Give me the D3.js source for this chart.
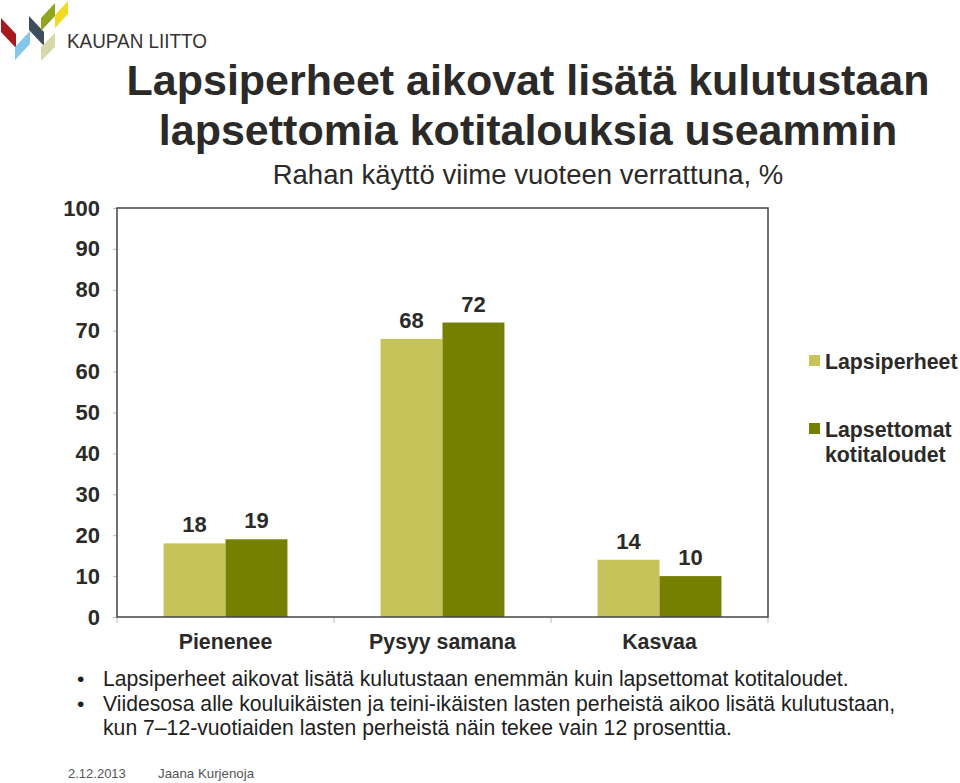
<!DOCTYPE html>
<html>
<head>
<meta charset="utf-8">
<script src="https://cdn.jsdelivr.net/npm/d3@7"></script>
<style>
  body { margin: 0; background: #fff; }
  svg { display: block; font-family: "Liberation Sans", Arial, sans-serif; }
</style>
</head>
<body>
<div id="chart"></div>
<script>
// chart values
categories = ["Pienenee", "Pysyy samana", "Kasvaa"];
seriesNames = ["Lapsiperheet", "Lapsettomat kotitaloudet"];
lapsiperheet = [18, 68, 14];
lapsettomat = [19, 72, 10];
yTicks = [0, 10, 20, 30, 40, 50, 60, 70, 80, 90, 100];

titleLines = ["Lapsiperheet aikovat lisätä kulutustaan", "lapsettomia kotitalouksia useammin"];
subtitle = "Rahan käyttö viime vuoteen verrattuna, %";
bullets = [
    ["Lapsiperheet aikovat lisätä kulutustaan enemmän kuin lapsettomat kotitaloudet."],
    ["Viidesosa alle kouluikäisten ja teini-ikäisten lasten perheistä aikoo lisätä kulutustaan,",
     "kun 7\u201312-vuotiaiden lasten perheistä näin tekee vain 12 prosenttia."]
];
footerDate = "2.12.2013";
footerAuthor = "Jaana Kurjenoja";

colors = ["#c6c35b", "#757f00"];

var width = 960, height = 783;
var plot = { left: 117, right: 768, top: 208, bottom: 617 };

var svg = d3.select("#chart")
    .append("svg")
    .attr("width", width)
    .attr("height", height);

// logo
var logoShapes = [
    { fill: "#a8191f", pts: [[1, 18], [1, 32], [16, 48], [16, 34]] },
    { fill: "#86c6ea", pts: [[15, 47], [15, 60], [30, 44], [30, 31]] },
    { fill: "#3e4d5b", pts: [[29, 16], [29, 30], [44, 46], [44, 32]] },
    { fill: "#90a61f", pts: [[41, 18], [41, 31], [55, 16], [55, 3]] },
    { fill: "#f0db23", pts: [[55, 15], [55, 28], [68, 14], [68, 1]] },
    { fill: "#d8d9ab", pts: [[41, 47], [41, 61], [55, 47], [55, 33]] }
];
svg.append("g").selectAll("polygon")
    .data(logoShapes)
    .enter()
    .append("polygon")
    .attr("points", function (d) { return d.pts.map(function (p) { return p.join(","); }).join(" "); })
    .attr("fill", function (d) { return d.fill; });

svg.append("text")
    .attr("x", 67)
    .attr("y", 48)
    .attr("font-size", 21)
    .attr("fill", "#333")
    .attr("textLength", 140)
    .attr("lengthAdjust", "spacingAndGlyphs")
    .text("KAUPAN LIITTO");

// titles
svg.selectAll(".title")
    .data(titleLines)
    .enter()
    .append("text")
    .attr("class", "title")
    .attr("x", 528)
    .attr("y", function (d, i) { return 95 + i * 50; })
    .attr("text-anchor", "middle")
    .attr("font-size", 43)
    .attr("font-weight", "bold")
    .attr("fill", "#2b2a28")
    .text(function (d) { return d; });

svg.append("text")
    .attr("x", 528)
    .attr("y", 184)
    .attr("text-anchor", "middle")
    .attr("font-size", 27.5)
    .attr("fill", "#2b2a28")
    .text(subtitle);

// scales
var y = d3.scaleLinear().domain([0, 100]).range([plot.bottom, plot.top]);

var x0 = d3.scaleBand()
    .domain(categories)
    .range([plot.left, plot.right])
    .paddingInner(0.429)
    .paddingOuter(0.2145);

var x1 = d3.scaleBand()
    .domain(d3.range(seriesNames.length))
    .range([0, x0.bandwidth()]);

// y axis
var yAxis = svg.append("g")
    .attr("transform", "translate(" + plot.left + ",0)")
    .call(d3.axisLeft(y).tickValues(yTicks).tickSize(4).tickPadding(13));
yAxis.select(".domain").remove();
yAxis.selectAll(".tick line").attr("stroke", "#bbb");
yAxis.selectAll(".tick text")
    .attr("font-family", "Liberation Sans, Arial, sans-serif")
    .attr("font-size", 22)
    .attr("font-weight", "bold")
    .attr("fill", "#2b2a28");

// x axis ticks at category boundaries
var bounds = categories.map(function (c) { return x0(c) - x0.step() * x0.paddingInner() / 2; }).concat([plot.right]);
svg.append("g").selectAll("line")
    .data(bounds)
    .enter()
    .append("line")
    .attr("x1", function (d) { return d; })
    .attr("x2", function (d) { return d; })
    .attr("y1", plot.bottom)
    .attr("y2", plot.bottom + 6)
    .attr("stroke", "#bbb");

// bars
var groups = svg.append("g").selectAll("g")
    .data(categories)
    .enter()
    .append("g")
    .attr("transform", function (d) { return "translate(" + x0(d) + ",0)"; });

var bars = groups.selectAll("g")
    .data(function (d, i) { return [lapsiperheet[i], lapsettomat[i]]; })
    .enter()
    .append("g");

bars.append("rect")
    .attr("x", function (d, i) { return x1(i); })
    .attr("y", function (d) { return y(d); })
    .attr("width", x1.bandwidth())
    .attr("height", function (d) { return y(0) - y(d); })
    .attr("fill", function (d, i) { return colors[i]; });

bars.append("text")
    .attr("x", function (d, i) { return x1(i) + x1.bandwidth() / 2; })
    .attr("y", function (d) { return y(d) - 11; })
    .attr("text-anchor", "middle")
    .attr("font-size", 22)
    .attr("font-weight", "bold")
    .attr("fill", "#2b2a28")
    .text(function (d) { return d; });

// frame
svg.append("rect")
    .attr("x", plot.left)
    .attr("y", plot.top)
    .attr("width", plot.right - plot.left)
    .attr("height", plot.bottom - plot.top)
    .attr("fill", "none")
    .attr("stroke", "#444")
    .attr("stroke-width", 1.5);

// category labels
svg.append("g").selectAll("text")
    .data(categories)
    .enter()
    .append("text")
    .attr("x", function (d) { return x0(d) + x0.bandwidth() / 2; })
    .attr("y", 649)
    .attr("text-anchor", "middle")
    .attr("font-size", 21.3)
    .attr("font-weight", "bold")
    .attr("fill", "#2b2a28")
    .text(function (d) { return d; });

// legend
var legendLines = [["Lapsiperheet"], ["Lapsettomat", "kotitaloudet"]];
var legend = svg.append("g").selectAll("g")
    .data(seriesNames)
    .enter()
    .append("g")
    .attr("transform", function (d, i) { return "translate(809," + (355 + i * 68) + ")"; });

legend.append("rect")
    .attr("width", 11)
    .attr("height", 11)
    .attr("fill", function (d, i) { return colors[i]; });

legend.each(function (d, i) {
    d3.select(this).selectAll("text")
        .data(legendLines[i])
        .enter()
        .append("text")
        .attr("x", 16)
        .attr("y", function (t, j) { return 14 + j * 25; })
        .attr("font-size", 21.3)
        .attr("font-weight", "bold")
        .attr("fill", "#2b2a28")
        .text(function (t) { return t; });
});

// bullet notes
var lineY = 686;
bullets.forEach(function (lines) {
    svg.append("text")
        .attr("x", 77)
        .attr("y", lineY)
        .attr("font-size", 21)
        .attr("fill", "#1e1e1e")
        .text("\u2022");
    lines.forEach(function (t) {
        svg.append("text")
            .attr("x", 103)
            .attr("y", lineY)
            .attr("font-size", 21.2)
            .attr("fill", "#1e1e1e")
            .text(t);
        lineY += 24.5;
    });
});

// footer
svg.append("text")
    .attr("x", 68)
    .attr("y", 778)
    .attr("font-size", 13)
    .attr("fill", "#555")
    .text(footerDate);

svg.append("text")
    .attr("x", 158)
    .attr("y", 778)
    .attr("font-size", 13.3)
    .attr("fill", "#555")
    .text(footerAuthor);
</script>
</body>
</html>
